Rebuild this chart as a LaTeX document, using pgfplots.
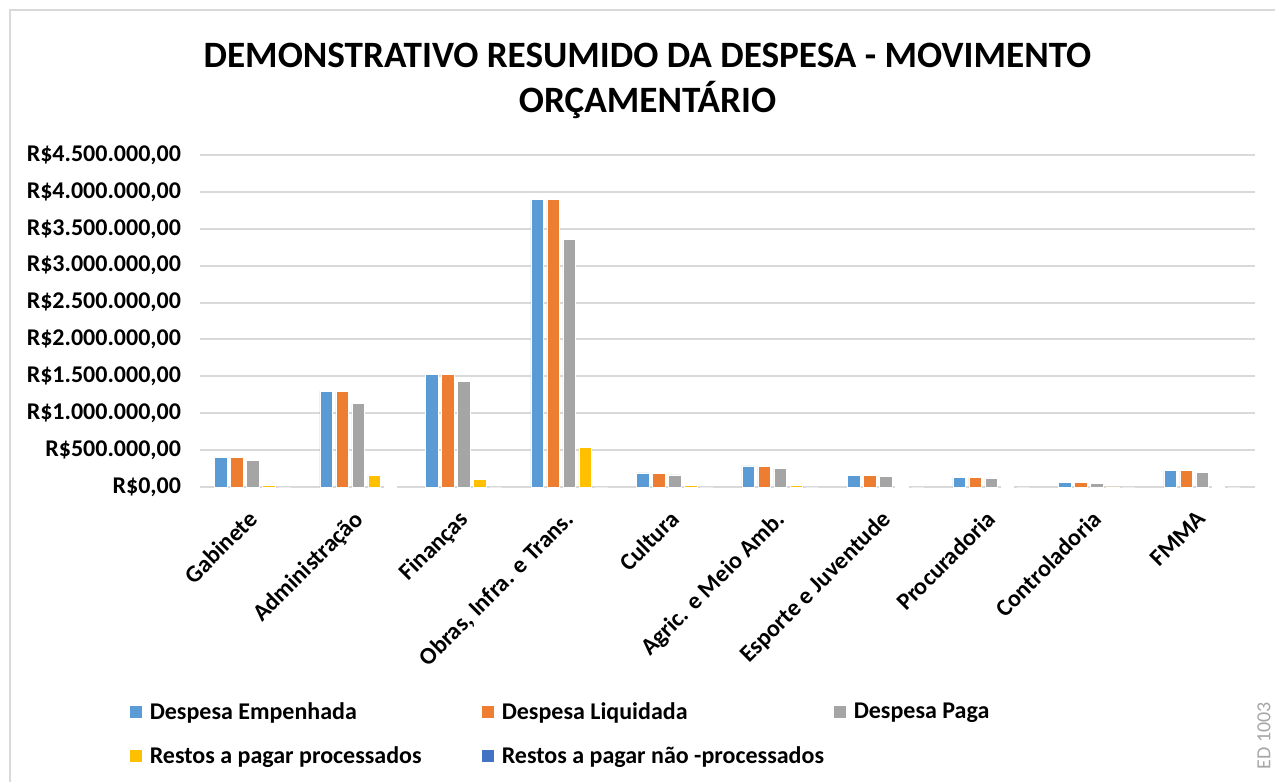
\documentclass[border=0pt]{standalone}
\usepackage{fontspec}
\setmainfont{Carlito}
\usepackage{pgfplots}
\pgfplotsset{compat=1.18}
\definecolor{cEmp}{HTML}{5B9BD5}
\definecolor{cLiq}{HTML}{ED7D31}
\definecolor{cPag}{HTML}{A5A5A5}
\definecolor{cRP}{HTML}{FFC000}
\definecolor{cRNP}{HTML}{4472C4}
\definecolor{cGrid}{HTML}{D9D9D9}
\newcommand{\lbox}[1]{\makebox[160pt][l]{#1}}
\begin{document}
\begin{tikzpicture}
\path[use as bounding box] (-100pt,-147.5pt) rectangle (537.5pt,243.5pt);
\draw[gray!30,line width=0.8pt] (-95pt,-160pt) -- (-95pt,238.5pt) -- (545pt,238.5pt);
\begin{axis}[
  scale only axis, width=527.5pt, height=166pt,
  ybar=1.7pt, bar width=6.3pt,
  xmin=-0.5, xmax=9.5, ymin=0, ymax=4500000,
  scaled y ticks=false,
  xtick={0,...,9},
  xticklabels={Gabinete,Administração,Finanças,{Obras, Infra. e Trans.},Cultura,
    Agric. e Meio Amb.,Esporte e Juventude,Procuradoria,Controladoria,FMMA},
  ytick={0,500000,...,4500000},
  yticklabels={{R\$0,00},{R\$500.000,00},{R\$1.000.000,00},{R\$1.500.000,00},
    {R\$2.000.000,00},{R\$2.500.000,00},{R\$3.000.000,00},{R\$3.500.000,00},
    {R\$4.000.000,00},{R\$4.500.000,00}},
  ticklabel style={font=\bfseries\fontsize{12}{14}\selectfont},
  yticklabel style={xshift=-6pt},
  xticklabel style={xshift=-3pt, yshift=-6pt, rotate=45, anchor=north east},
  major tick length=0pt,
  axis line style={draw=none},
  ymajorgrids, grid style={cGrid, line width=1pt},
  legend columns=3,
  legend style={at={(-0.0726,-0.624)}, anchor=north west, draw=none, fill=none,
    font=\bfseries\fontsize{12}{14}\selectfont, row sep=8pt,
    /tikz/every even column/.append style={column sep=4pt},
    /tikz/every odd column/.append style={column sep=2pt}},
  legend cell align=left,
  legend image code/.code={\fill[#1,draw=none] (0pt,-3pt) rectangle (6pt,3pt);},
]
\addplot[fill=cEmp, draw=white, line width=0.3pt] coordinates {
  (0,397000) (1,1300000) (2,1531000) (3,3902000) (4,190000)
  (5,285000) (6,153000) (7,135000) (8,58000) (9,221000)};
\addplot[fill=cLiq, draw=white, line width=0.3pt] coordinates {
  (0,396000) (1,1295000) (2,1530000) (3,3900000) (4,189000)
  (5,284000) (6,152000) (7,134000) (8,57000) (9,220000)};
\addplot[fill=cPag, draw=white, line width=0.3pt] coordinates {
  (0,366000) (1,1134000) (2,1432000) (3,3360000) (4,163000)
  (5,257000) (6,144000) (7,122000) (8,50000) (9,199000)};
\addplot[fill=cRP, draw=white, line width=0.3pt] coordinates {
  (0,25000) (1,158000) (2,104000) (3,542000) (4,25000)
  (5,20000) (6,3000) (7,6000) (8,1500) (9,10000)};
\addplot[fill=cRNP, draw=white, line width=0.3pt] coordinates {
  (0,0) (1,10000) (2,0) (3,0) (4,0)
  (5,0) (6,0) (7,0) (8,0) (9,0)};
\addlegendentry{\lbox{Despesa Empenhada}}
\addlegendentry{\lbox{Despesa Liquidada}}
\addlegendentry{\lbox{Despesa Paga}}
\addlegendentry{\lbox{Restos a pagar processados}}
\addlegendentry{\lbox{Restos a pagar não -processados}}
\end{axis}
\node[font=\bfseries\fontsize{18.6}{22.5}\selectfont, align=center] at (223.75pt,203pt)
  {DEMONSTRATIVO RESUMIDO DA DESPESA - MOVIMENTO\\ORÇAMENTÁRIO};
\node[rotate=90, anchor=east, text=gray!70, font=\fontsize{10}{12}\selectfont]
  at (532pt,-104pt) {ED 1003};
\end{tikzpicture}
\end{document}
